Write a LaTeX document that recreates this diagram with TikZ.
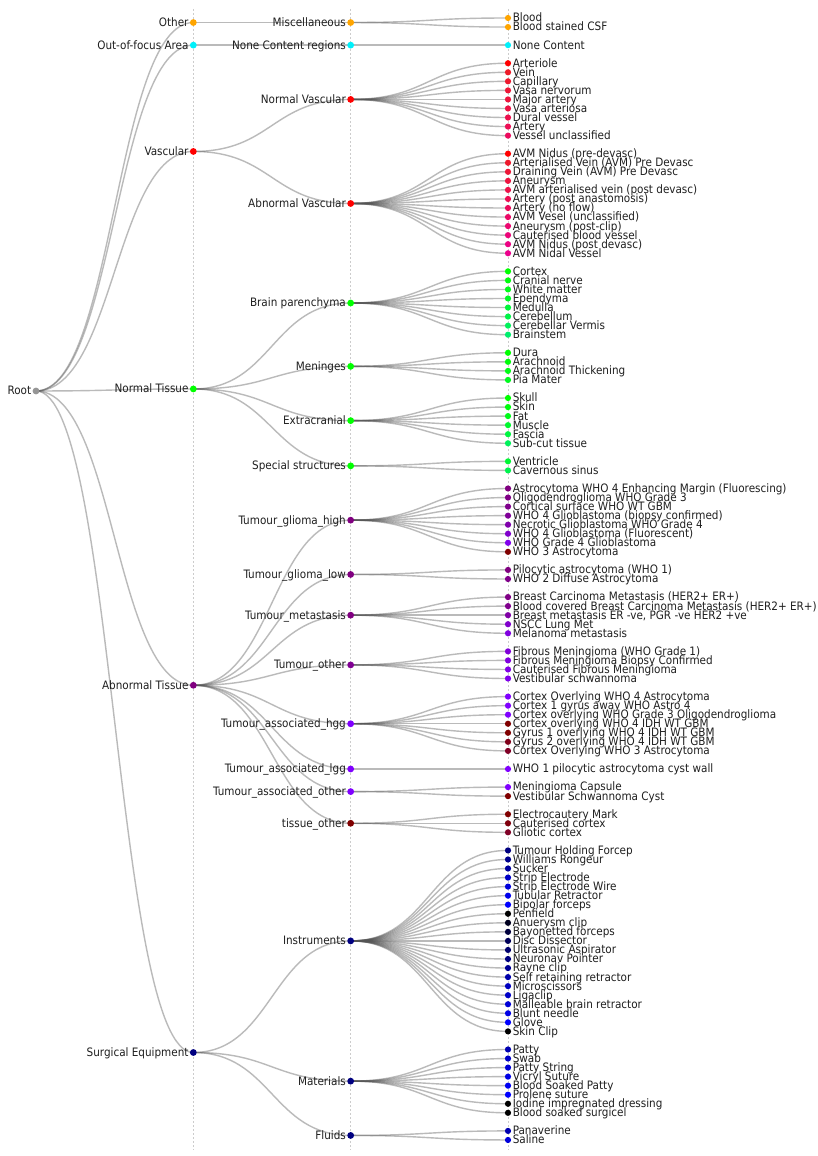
\documentclass[tikz,border=0pt]{standalone}
\usepackage{fontspec}
\setmainfont{DejaVu Sans Condensed}
\usetikzlibrary{backgrounds}
\definecolor{cOrange}{RGB}{255,165,0}
\definecolor{cCyan}{RGB}{0,240,250}
\definecolor{cGray}{RGB}{150,150,150}
\definecolor{cSpring}{RGB}{0,235,130}
\definecolor{cPurple}{RGB}{128,0,128}
\definecolor{cViolet}{RGB}{128,0,255}
\definecolor{cMaroon}{RGB}{128,0,0}
\definecolor{cNavy}{RGB}{0,0,128}
\newcommand\inode[5]{%
  \node[dot,fill=#4] (#1) at (#2,#3) {};
  \node[ltxt,anchor=base east] (#1t) at ([xshift=-4.6pt,yshift=-3.9pt]#1.center) {#5};}
\newcommand\lnk[2]{%
  \begin{pgfonlayer}{background}
  \draw[link] (#1.center) .. controls +(78.67,0) and +(-78.67,0) .. (#2.center);
  \end{pgfonlayer}}
\newcommand\leaf[4]{%
  \node[ldot,fill=#3] (l#2) at (508,#2) {};
  \node[ltxt,anchor=base west] (l#2t) at ([xshift=4.6pt,yshift=-3.9pt]l#2.center) {#4};
  \lnk{#1}{l#2}}
\begin{document}
\begin{tikzpicture}[x=1pt,y=-9.048pt,
  dot/.style={circle,inner sep=0pt,minimum size=6.8pt,draw=none},
  ldot/.style={circle,inner sep=0pt,minimum size=6.2pt,draw=none},
  ltxt/.style={inner sep=0pt,font=\fontsize{11.6pt}{13pt}\selectfont,text=black!88},
  link/.style={draw=black!67,draw opacity=0.4,line width=1.4pt},
  guide/.style={draw=black!20,dash pattern=on 2pt off 2pt,line width=0.7pt}]
\begin{pgfonlayer}{background}
\path[fill=white] (0,-1.98939) rectangle (818,125.7737);
\draw[guide] (193.33,-0.995) -- (193.33,125.11);
\draw[guide] (350.67,-0.995) -- (350.67,125.11);
\draw[guide] (508,-0.995) -- (508,125.11);
\end{pgfonlayer}
\useasboundingbox (0,-1.98939) rectangle (818,125.7737);
% root and level 1
\inode{root}{36}{41.2222}{cGray}{Root}
\inode{other}{193.33}{0.5}{cOrange}{Other}\lnk{root}{other}
\inode{oof}{193.33}{3}{cCyan}{Out-of-focus Area}\lnk{root}{oof}
\inode{vasc}{193.33}{14.75}{red}{Vascular}\lnk{root}{vasc}
\inode{ntis}{193.33}{41}{green}{Normal Tissue}\lnk{root}{ntis}
\inode{atis}{193.33}{73.75}{cPurple}{Abnormal Tissue}\lnk{root}{atis}
\inode{surg}{193.33}{114.3333}{cNavy}{Surgical Equipment}\lnk{root}{surg}
% level 2
\inode{misc}{350.67}{0.5}{cOrange}{Miscellaneous}\lnk{other}{misc}
\inode{ncr}{350.67}{3}{cCyan}{None Content regions}\lnk{oof}{ncr}
\inode{nvas}{350.67}{9}{red}{Normal Vascular}\lnk{vasc}{nvas}
\inode{avas}{350.67}{20.5}{red}{Abnormal Vascular}\lnk{vasc}{avas}
\inode{brain}{350.67}{31.5}{green}{Brain parenchyma}\lnk{ntis}{brain}
\inode{men}{350.67}{38.5}{green}{Meninges}\lnk{ntis}{men}
\inode{extra}{350.67}{44.5}{green}{Extracranial}\lnk{ntis}{extra}
\inode{spec}{350.67}{49.5}{green}{Special structures}\lnk{ntis}{spec}
\inode{tgh}{350.67}{55.5}{cPurple}{Tumour\_glioma\_high}\lnk{atis}{tgh}
\inode{tgl}{350.67}{61.5}{cPurple}{Tumour\_glioma\_low}\lnk{atis}{tgl}
\inode{tmet}{350.67}{66}{cPurple}{Tumour\_metastasis}\lnk{atis}{tmet}
\inode{toth}{350.67}{71.5}{cViolet!15!cPurple}{Tumour\_other}\lnk{atis}{toth}
\inode{thgg}{350.67}{78}{cViolet}{Tumour\_associated\_hgg}\lnk{atis}{thgg}
\inode{tlgg}{350.67}{83}{cViolet}{Tumour\_associated\_lgg}\lnk{atis}{tlgg}
\inode{taoth}{350.67}{85.5}{cViolet}{Tumour\_associated\_other}\lnk{atis}{taoth}
\inode{tisoth}{350.67}{89}{cMaroon}{tissue\_other}\lnk{atis}{tisoth}
\inode{instr}{350.67}{102}{cNavy}{Instruments}\lnk{surg}{instr}
\inode{mat}{350.67}{117.5}{cNavy}{Materials}\lnk{surg}{mat}
\inode{fluid}{350.67}{123.5}{cNavy}{Fluids}\lnk{surg}{fluid}
% leaves
\leaf{misc}{0}{cOrange}{Blood}
\leaf{misc}{1}{cOrange}{Blood stained CSF}
\leaf{ncr}{3}{cCyan}{None Content}
\leaf{nvas}{5}{red}{Arteriole}
\leaf{nvas}{6}{magenta!5!red}{Vein}
\leaf{nvas}{7}{magenta!10!red}{Capillary}
\leaf{nvas}{8}{magenta!18!red}{Vasa nervorum}
\leaf{nvas}{9}{magenta!25!red}{Major artery}
\leaf{nvas}{10}{magenta!32!red}{Vasa arteriosa}
\leaf{nvas}{11}{magenta!40!red}{Dural vessel}
\leaf{nvas}{12}{magenta!48!red}{Artery}
\leaf{nvas}{13}{magenta!56!red}{Vessel unclassified}
\leaf{avas}{15}{red}{AVM Nidus (pre-devasc)}
\leaf{avas}{16}{magenta!9!red}{Arterialised Vein (AVM) Pre Devasc}
\leaf{avas}{17}{magenta!18!red}{Draining Vein (AVM) Pre Devasc}
\leaf{avas}{18}{magenta!27!red}{Aneurysm}
\leaf{avas}{19}{magenta!36!red}{AVM arterialised vein (post devasc)}
\leaf{avas}{20}{magenta!45!red}{Artery (post anastomosis)}
\leaf{avas}{21}{magenta!55!red}{Artery (no flow)}
\leaf{avas}{22}{magenta!64!red}{AVM Vesel (unclassified)}
\leaf{avas}{23}{magenta!73!red}{Aneurysm (post-clip)}
\leaf{avas}{24}{magenta!82!red}{Cauterised blood vessel}
\leaf{avas}{25}{magenta!91!red}{AVM Nidus (post devasc)}
\leaf{avas}{26}{magenta}{AVM Nidal Vessel}
\leaf{brain}{28}{green}{Cortex}
\leaf{brain}{29}{cSpring!10!green}{Cranial nerve}
\leaf{brain}{30}{cSpring!20!green}{White matter}
\leaf{brain}{31}{cSpring!30!green}{Ependyma}
\leaf{brain}{32}{cSpring!45!green}{Medulla}
\leaf{brain}{33}{cSpring!55!green}{Cerebellum}
\leaf{brain}{34}{cSpring!70!green}{Cerebellar Vermis}
\leaf{brain}{35}{cSpring!85!green}{Brainstem}
\leaf{men}{37}{green}{Dura}
\leaf{men}{38}{cSpring!8!green}{Arachnoid}
\leaf{men}{39}{cSpring!16!green}{Arachnoid Thickening}
\leaf{men}{40}{cSpring!24!green}{Pia Mater}
\leaf{extra}{42}{green}{Skull}
\leaf{extra}{43}{cSpring!10!green}{Skin}
\leaf{extra}{44}{cSpring!20!green}{Fat}
\leaf{extra}{45}{cSpring!35!green}{Muscle}
\leaf{extra}{46}{cSpring!50!green}{Fascia}
\leaf{extra}{47}{cSpring!70!green}{Sub-cut tissue}
\leaf{spec}{49}{cSpring!40!green}{Ventricle}
\leaf{spec}{50}{cSpring!60!green}{Cavernous sinus}
\leaf{tgh}{52}{cPurple}{Astrocytoma WHO 4 Enhancing Margin (Fluorescing)}
\leaf{tgh}{53}{cViolet!5!cPurple}{Oligodendroglioma WHO Grade 3}
\leaf{tgh}{54}{cViolet!10!cPurple}{Cortical surface WHO WT GBM}
\leaf{tgh}{55}{cViolet!20!cPurple}{WHO 4 Glioblastoma (biopsy confirmed)}
\leaf{tgh}{56}{cViolet!35!cPurple}{Necrotic Glioblastoma WHO Grade 4}
\leaf{tgh}{57}{cViolet!60!cPurple}{WHO 4 Glioblastoma (Fluorescent)}
\leaf{tgh}{58}{cViolet!85!cPurple}{WHO Grade 4 Glioblastoma}
\leaf{tgh}{59}{cMaroon}{WHO 3 Astrocytoma}
\leaf{tgl}{61}{cPurple}{Pilocytic astrocytoma (WHO 1)}
\leaf{tgl}{62}{cViolet!8!cPurple}{WHO 2 Diffuse Astrocytoma}
\leaf{tmet}{64}{cViolet!5!cPurple}{Breast Carcinoma Metastasis (HER2+ ER+)}
\leaf{tmet}{65}{cViolet!10!cPurple}{Blood covered Breast Carcinoma Metastasis (HER2+ ER+)}
\leaf{tmet}{66}{cViolet!30!cPurple}{Breast metastasis ER -ve, PGR -ve HER2 +ve}
\leaf{tmet}{67}{cViolet!60!cPurple}{NSCC Lung Met}
\leaf{tmet}{68}{cViolet!75!cPurple}{Melanoma metastasis}
\leaf{toth}{70}{cViolet!70!cPurple}{Fibrous Meningioma (WHO Grade 1)}
\leaf{toth}{71}{cViolet!75!cPurple}{Fibrous Meningioma Biopsy Confirmed}
\leaf{toth}{72}{cViolet!80!cPurple}{Cauterised Fibrous Meningioma}
\leaf{toth}{73}{cViolet!85!cPurple}{Vestibular schwannoma}
\leaf{thgg}{75}{cViolet}{Cortex Overlying WHO 4 Astrocytoma}
\leaf{thgg}{76}{cViolet}{Cortex 1 gyrus away WHO Astro 4}
\leaf{thgg}{77}{cViolet}{Cortex overlying WHO Grade 3 Oligodendroglioma}
\leaf{thgg}{78}{cMaroon}{Cortex overlying WHO 4 IDH WT GBM}
\leaf{thgg}{79}{cMaroon}{Gyrus 1 overlying WHO 4 IDH WT GBM}
\leaf{thgg}{80}{cPurple!20!cMaroon}{Gyrus 2 overlying WHO 4 IDH WT GBM}
\leaf{thgg}{81}{cPurple!30!cMaroon}{Cortex Overlying WHO 3 Astrocytoma}
\leaf{tlgg}{83}{cViolet}{WHO 1 pilocytic astrocytoma cyst wall}
\leaf{taoth}{85}{cViolet}{Meningioma Capsule}
\leaf{taoth}{86}{cMaroon}{Vestibular Schwannoma Cyst}
\leaf{tisoth}{88}{cMaroon}{Electrocautery Mark}
\leaf{tisoth}{89}{cPurple!10!cMaroon}{Cauterised cortex}
\leaf{tisoth}{90}{cPurple!30!cMaroon}{Gliotic cortex}
\leaf{instr}{92}{blue!50!black}{Tumour Holding Forcep}
\leaf{instr}{93}{blue!55!black}{Williams Rongeur}
\leaf{instr}{94}{blue!62!black}{Sucker}
\leaf{instr}{95}{blue!78!black}{Strip Electrode}
\leaf{instr}{96}{blue!86!black}{Strip Electrode Wire}
\leaf{instr}{97}{blue!92!black}{Tubular Retractor}
\leaf{instr}{98}{blue}{Bipolar forceps}
\leaf{instr}{99}{black}{Penfield}
\leaf{instr}{100}{blue!12!black}{Anuerysm clip}
\leaf{instr}{101}{blue!24!black}{Bayonetted forceps}
\leaf{instr}{102}{blue!35!black}{Disc Dissector}
\leaf{instr}{103}{blue!43!black}{Ultrasonic Aspirator}
\leaf{instr}{104}{blue!50!black}{Neuronav Pointer}
\leaf{instr}{105}{blue!59!black}{Rayne clip}
\leaf{instr}{106}{blue!67!black}{Self retaining retractor}
\leaf{instr}{107}{blue!75!black}{Microscissors}
\leaf{instr}{108}{blue!78!black}{Ligaclip}
\leaf{instr}{109}{blue!84!black}{Malleable brain retractor}
\leaf{instr}{110}{blue!90!black}{Blunt needle}
\leaf{instr}{111}{blue}{Glove}
\leaf{instr}{112}{black}{Skin Clip}
\leaf{mat}{114}{blue!70!black}{Patty}
\leaf{mat}{115}{blue!78!black}{Swab}
\leaf{mat}{116}{blue!84!black}{Patty String}
\leaf{mat}{117}{blue!90!black}{Vicryl Suture}
\leaf{mat}{118}{blue!95!black}{Blood Soaked Patty}
\leaf{mat}{119}{blue}{Prolene suture}
\leaf{mat}{120}{black}{Iodine impregnated dressing}
\leaf{mat}{121}{black}{Blood soaked surgicel}
\leaf{fluid}{123}{blue!70!black}{Panaverine}
\leaf{fluid}{124}{blue!86!black}{Saline}
\end{tikzpicture}
\end{document}
